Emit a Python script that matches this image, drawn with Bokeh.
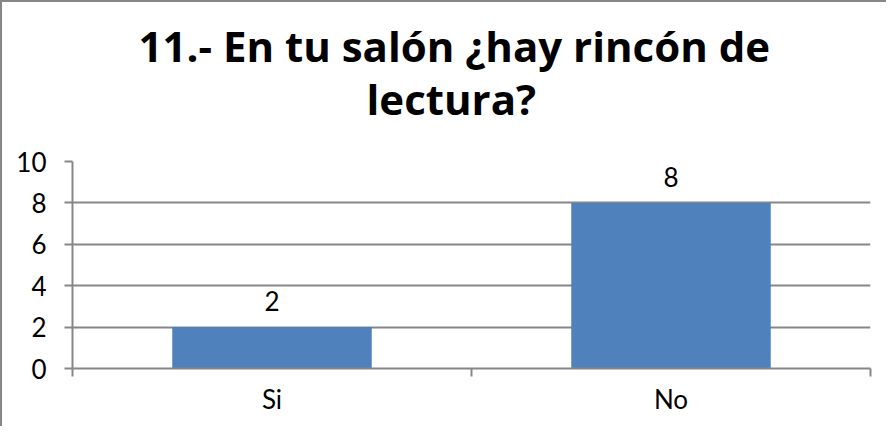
from bokeh.plotting import figure
from bokeh.models import Range1d, FixedTicker, Title, ColumnDataSource
from bokeh.core.properties import value
from bokeh.embed import file_html
from bokeh.resources import INLINE

# data
categories = ["Si", "No"]
counts = [2, 8]
y_ticks = [0, 2, 4, 6, 8, 10]
title_lines = ["11.- En tu salón ¿hay rincón de", "lectura?"]

GRAY = "#878787"
BLUE = "#4F81BD"
FONT = "Lato"
TFONT = "Open Sans"

xs = [i + 0.5 for i in range(len(categories))]
src = ColumnDataSource(dict(x=xs, top=counts, label=[str(c) for c in counts]))

p = figure(width=886, height=426, output_backend="svg", toolbar_location=None,
           x_range=Range1d(0, len(categories)), y_range=Range1d(0, 10),
           min_border_left=70, min_border_right=18, min_border_top=159, min_border_bottom=60)
p.styles = {"border-left": f"2px solid {GRAY}", "border-top": f"2px solid {GRAY}"}
p.outline_line_color = None
p.background_fill_color = "white"
p.border_fill_color = "white"

p.vbar(x="x", top="top", width=0.5, bottom=0, source=src, fill_color=BLUE, line_color=None)
p.text(x="x", y="top", text="label", source=src, text_align="center", text_baseline="alphabetic",
       y_offset=-26, text_font=value(FONT), text_font_size="26px", text_color="black")

# y axis
p.yaxis.ticker = FixedTicker(ticks=y_ticks)
p.yaxis.axis_line_color = GRAY
p.yaxis.axis_line_width = 2
p.yaxis.major_tick_line_color = GRAY
p.yaxis.major_tick_line_width = 2
p.yaxis.major_tick_out = 8
p.yaxis.major_tick_in = 0
p.yaxis.minor_tick_line_color = None
p.yaxis.major_label_standoff = 18
p.yaxis.major_label_text_font = FONT
p.yaxis.major_label_text_font_size = "26px"
p.yaxis.major_label_text_color = "black"

# x axis: labels at category centers, ticks at boundaries
p.xaxis.ticker = FixedTicker(ticks=xs, minor_ticks=list(range(len(categories) + 1)))
p.xaxis.major_label_overrides = {x: c for x, c in zip(xs, categories)}
p.xaxis.axis_line_color = GRAY
p.xaxis.axis_line_width = 2
p.xaxis.major_tick_line_color = None
p.xaxis.minor_tick_line_color = GRAY
p.xaxis.minor_tick_line_width = 2
p.xaxis.minor_tick_out = 8
p.xaxis.minor_tick_in = 0
p.xaxis.major_label_standoff = 6
p.xaxis.major_label_text_font = FONT
p.xaxis.major_label_text_font_size = "26px"
p.xaxis.major_label_text_color = "black"

p.xgrid.grid_line_color = None
p.ygrid.ticker = FixedTicker(ticks=y_ticks)
p.ygrid.grid_line_color = GRAY
p.ygrid.grid_line_width = 2

# spacer between title and plot area
spacer = Title(text=" ", text_font=TFONT, text_font_size="24px", standoff=0)
p.add_layout(spacer, "above")

t2 = Title(text=title_lines[1], align="left", offset=294, text_font=TFONT, text_font_style="bold",
           text_font_size="42px", text_color="black", standoff=0)
p.add_layout(t2, "above")

p.title.text = title_lines[0]
p.title.align = "left"
p.title.offset = 66
p.title.text_font = TFONT
p.title.text_font_style = "bold"
p.title.text_font_size = "42px"
p.title.text_color = "black"
p.title.standoff = -12

open("out.html", "w").write(file_html(p, INLINE))
